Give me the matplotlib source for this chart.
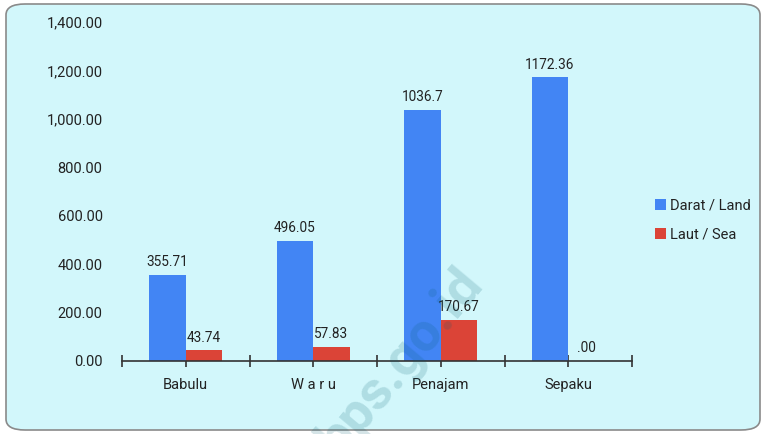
import numpy as np
import matplotlib
matplotlib.use('Agg')
import matplotlib.pyplot as plt
from matplotlib.patches import FancyBboxPatch
from matplotlib.ticker import FuncFormatter

plt.rcParams['font.family'] = ['Roboto', 'DejaVu Sans']

# data
kecamatan = ['Babulu', 'W a r u', 'Penajam', 'Sepaku']
darat = [355.71, 496.05, 1036.7, 1172.36]
laut = [43.74, 57.83, 170.67, 0.0]
label_darat = ['355.71', '496.05', '1036.7', '1172.36']
label_laut = ['43.74', '57.83', '170.67', '.00']

W, H = 764, 434
fig = plt.figure(figsize=(W / 100, H / 100), dpi=100)
fig.patch.set_facecolor('white')

# background box with rounded corners
bg = FancyBboxPatch((6 / W, 4 / H), 754 / W, 426 / H,
                    boxstyle='round,pad=0,rounding_size=0.025',
                    transform=fig.transFigure, facecolor='#d2f7fb',
                    edgecolor='#8a8a8a', linewidth=1.2, zorder=-1)
fig.patches.append(bg)

ax = fig.add_axes([122 / W, (H - 361) / H, 510 / W, 339 / H])
ax.set_facecolor('none')
ax.set_zorder(1)

x = np.arange(len(kecamatan))
w = 0.286
b1 = ax.bar(x - w / 2, darat, w, color='#4285f4', label='Darat / Land', zorder=2)
b2 = ax.bar(x + w / 2, laut, w, color='#db4437', label='Laut / Sea', zorder=2)

for bars, labs in [(b1, label_darat), (b2, label_laut)]:
    for r, t in zip(bars, labs):
        ax.annotate(t, (r.get_x() + r.get_width() / 2, r.get_height()),
                    xytext=(0, 4), textcoords='offset points',
                    ha='center', va='bottom', fontsize=9.8, color='#222222')

ax.set_xlim(-0.5, 3.5)
ax.set_ylim(0, 1400)
ax.set_yticks(np.arange(0, 1401, 200))
ax.yaxis.set_major_formatter(FuncFormatter(lambda v, p: f'{v:,.2f}'))
ax.set_xticks(x)
ax.set_xticklabels(kecamatan)
ax.set_xticks(np.arange(-0.5, 3.6, 1), minor=True)

for s in ['top', 'right', 'left']:
    ax.spines[s].set_visible(False)
ax.spines['bottom'].set_color('#333333')
ax.spines['bottom'].set_linewidth(1.2)
ax.spines['bottom'].set_zorder(3)

ax.tick_params(axis='y', length=0, pad=14, labelsize=10.5, labelcolor='#222222')
ax.tick_params(axis='x', which='both', direction='inout', length=9, width=1.2,
               color='#333333', pad=8, labelsize=10.5, labelcolor='#222222')

fig.legend(loc='center left', bbox_to_anchor=(642 / W, 1 - 220 / H),
           frameon=False, fontsize=10.5, handlelength=0.75, handleheight=0.75,
           handletextpad=0.3, labelspacing=1.0, labelcolor='#222222')

# watermark on top
wm = fig.text(400 / W, 1 - 362 / H, 'bps.go.id', rotation=50, fontsize=39,
              fontweight='bold', color='#005c6f', alpha=0.17,
              ha='center', va='center', zorder=5)
wm.set_clip_path(bg)

fig.savefig('out.png', dpi=100)
